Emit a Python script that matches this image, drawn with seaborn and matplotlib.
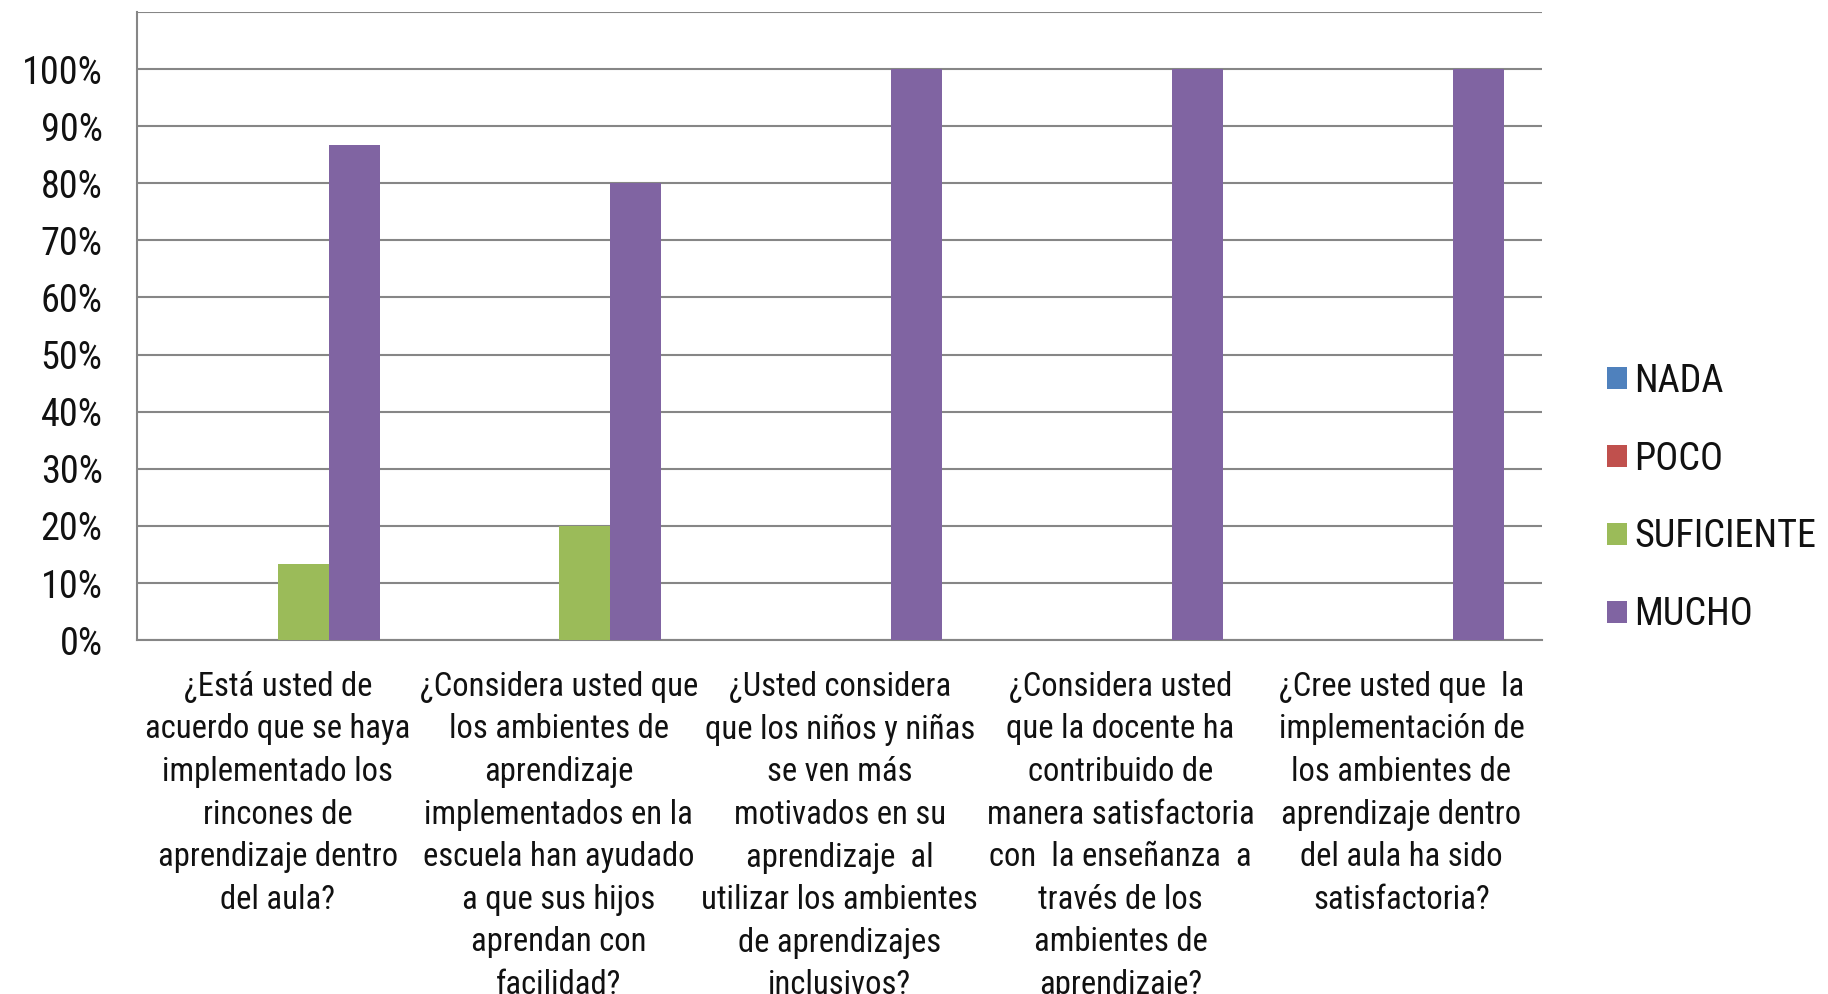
import matplotlib
matplotlib.use('Agg')
import matplotlib.pyplot as plt
from matplotlib import font_manager
import seaborn as sns
import pandas as pd

# data
preguntas = [
    '¿Está usted de\nacuerdo que se haya\nimplementado los\nrincones de\naprendizaje dentro\ndel aula?',
    '¿Considera usted que\nlos ambientes de\naprendizaje\nimplementados en la\nescuela han ayudado\na que sus hijos\naprendan con\nfacilidad?',
    '¿Usted considera\nque los niños y niñas\nse ven más\nmotivados en su\naprendizaje  al\nutilizar los ambientes\nde aprendizajes\ninclusivos?',
    '¿Considera usted\nque la docente ha\ncontribuido de\nmanera satisfactoria\ncon  la enseñanza  a\ntravés de los\nambientes de\naprendizaje?',
    '¿Cree usted que  la\nimplementación de\nlos ambientes de\naprendizaje dentro\ndel aula ha sido\nsatisfactoria?',
]
respuestas = ['NADA', 'POCO', 'SUFICIENTE', 'MUCHO']
nada = [0, 0, 0, 0, 0]
poco = [0, 0, 0, 0, 0]
suficiente = [0.1333, 0.20, 0, 0, 0]
mucho = [0.8667, 0.80, 1.0, 1.0, 1.0]
colores = ['#4F81BD', '#C0504D', '#9BBB59', '#8064A2']

rows = []
for i, q in enumerate(preguntas):
    for r, vals in zip(respuestas, [nada, poco, suficiente, mucho]):
        rows.append({'pregunta': q, 'respuesta': r, 'valor': vals[i]})
df = pd.DataFrame(rows)

sns.set_style('white')

# narrow face like Calibri if there is one
nombres = {f.name for f in font_manager.fontManager.ttflist}
familia = 'DejaVu Sans'
for cand in ['Roboto Condensed', 'Liberation Sans Narrow', 'Open Sans Condensed', 'Lato']:
    if cand in nombres:
        familia = cand
        break
plt.rcParams['font.family'] = [familia, 'DejaVu Sans']

fig = plt.figure(figsize=(18.28, 9.94), dpi=100)
ax = fig.add_axes([0.0752, 0.356, 0.7683, 0.632])

sns.barplot(data=df, x='pregunta', y='valor', hue='respuesta', order=preguntas,
            hue_order=respuestas, palette=colores, width=0.727, gap=0,
            saturation=1, linewidth=0, ax=ax, zorder=3)

# axis and grid
ax.set_ylim(0, 1.1)
ax.set_yticks([i / 10 for i in range(12)])
ax.set_yticklabels([f'{i * 10}%' for i in range(11)] + [''])
ax.yaxis.grid(True, color='#868686', linewidth=1.5, zorder=0)
ax.set_axisbelow(True)
ax.tick_params(axis='y', labelsize=27.5, length=0, pad=25, labelcolor='#111111')
ax.tick_params(axis='x', labelsize=23.5, length=0, pad=22, labelcolor='#111111')
for lbl in ax.get_xticklabels():
    lbl.set_linespacing(1.425)
    lbl.set_verticalalignment('top')
ax.set_xlabel('')
ax.set_ylabel('')
ax.spines['right'].set_visible(False)
ax.spines['top'].set_visible(False)
for s in ['left', 'bottom']:
    ax.spines[s].set_color('#868686')
    ax.spines[s].set_linewidth(1.5)

# Legend
handles, labels = ax.get_legend_handles_labels()
leg = ax.legend(handles, labels, loc='center left', bbox_to_anchor=(0.879, 0.499),
                bbox_transform=fig.transFigure, frameon=False, fontsize=27.5,
                handlelength=0.52, handleheight=0.52, handletextpad=0.2,
                labelspacing=1.07, borderaxespad=0, borderpad=0)
for t in leg.get_texts():
    t.set_color('#111111')

fig.savefig('out.png', dpi=100)
plt.close()
